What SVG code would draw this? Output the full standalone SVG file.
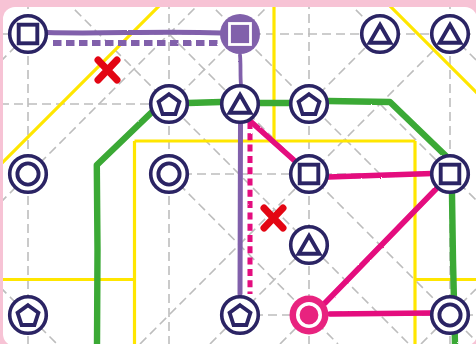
<svg xmlns="http://www.w3.org/2000/svg" xmlns:xlink="http://www.w3.org/1999/xlink" width="476" height="344" viewBox="0 0 476 344">
<style>
.ring{fill:#fff;stroke:#2b2464;stroke-width:3.6}
.sym{fill:none;stroke:#2b2464;stroke-width:3.9;stroke-linejoin:miter}
.grid path{fill:none;stroke:#bdbdbd;stroke-width:1.6;stroke-dasharray:9 5}
.yel{fill:none;stroke:#ffe600;stroke-width:3.2}
.ln{fill:none;stroke-linecap:round;stroke-linejoin:round}
.green{stroke:#3aa935;stroke-width:6.4}
.purple{stroke:#8161ab;stroke-width:5}
.pink{stroke:#e4087e;stroke-width:5.6}
.dotp{stroke-width:6;stroke-dasharray:8.5 4.5;stroke-linecap:butt}
.dotk{stroke-width:5;stroke-dasharray:7 4.3;stroke-linecap:butt}
.cross{stroke:#e30613;stroke-width:7;stroke-linecap:round}
</style>
<defs>
<clipPath id="card"><rect x="3" y="7" width="474" height="339" rx="12"/></clipPath>
<filter id="rough" filterUnits="userSpaceOnUse" x="0" y="0" width="476" height="344">
<feTurbulence type="fractalNoise" baseFrequency="0.7" numOctaves="2" seed="4"/>
<feDisplacementMap in="SourceGraphic" scale="1.6" xChannelSelector="R" yChannelSelector="G"/>
</filter>
<rect id="s-sq" x="-9.3" y="-9.3" width="18.6" height="18.6" class="sym"/>
<path id="s-tri" d="M0,-9.2 L10.4,8.8 L-10.4,8.8 Z" class="sym"/>
<path id="s-pent" d="M0,-9.8 L10.4,-2.2 L6.4,10 L-6.4,10 L-10.4,-2.2 Z" class="sym"/>
<circle id="s-cir" r="10.6" class="sym"/>
</defs>
<rect x="0" y="0" width="476" height="344" fill="#f7c3d5"/>
<rect x="3" y="7" width="474" height="339" rx="12" fill="#fff"/>
<g clip-path="url(#card)">
<g class="grid" id="grid">
<path d="M0,34 H476 M0,104 H290 M169,174 H450 M240,315 H476"/>
<path d="M28,0 V344 M169,0 V344 M309,0 V344 M450,0 V344"/>
<path d="M0,287 L57,344 M169,174 L338,344 M65,0 L409,344 M169,34 L476,341 M206,0 L380,174 M380,104 L476,200 M346,0 L380,34 M450,34 L476,60"/>
<path d="M0,62 L28,34 M0,203 L203,0 M169,105 L274,0 M309,104 L380,33 M140,344 L450,34 M210,344 L309,245 M280,344 L309,315 M421,344 L476,289"/>
</g>
<g id="zones" class="yel">
<path d="M0,165 L161,4"/>
<path d="M388,4 L478,94"/>
<path d="M274,0 V141 M134.5,141 H415 M134.5,141 V344 M415,141 V344 M0,279.5 H134.5 M415,279.5 H476"/>
</g>
<g id="connectors" filter="url(#rough)">
<path class="ln green" d="M97,344 L97.5,250 L96.8,165 L153,111"/>
<path class="ln green" d="M188,103 L221,102"/>
<path class="ln green" d="M259,103 L290,103"/>
<path class="ln green" d="M328,101 L390,102 L446,156"/>
<path class="ln green" d="M452,194 L453,260 L455,344"/>
<path class="ln purple" d="M47,32.5 C100,34 160,31 222,33"/>
<path class="ln purple dotp" d="M53,43 L220,43"/>
<path class="ln purple" d="M240,55 C241,65 240,75 241,85" style="stroke-width:3.8"/>
<path class="ln purple" d="M240.5,124 L240,294"/>
<path class="ln pink dotk" d="M250,122 L250,294"/>
<path class="ln pink" d="M249,120 L296,162"/>
<path class="ln pink" d="M328,177 L432,173.5"/>
<path class="ln pink" d="M436,189 L325,303"/>
<path class="ln pink" d="M330,314 L432,313"/>
</g>
<g id="nodes">
<g id="n1" transform="translate(28,34)"><circle r="18.3" class="ring"/><use href="#s-sq" xlink:href="#s-sq"/></g>
<g id="n2" transform="translate(240,34)"><circle r="20" fill="#8161ab"/><rect x="-10.5" y="-10.5" width="21" height="21" fill="#8161ab" stroke="#fff" stroke-width="2.8"/></g>
<g id="n3" transform="translate(380,34)"><circle r="18.3" class="ring"/><use href="#s-tri" xlink:href="#s-tri"/></g>
<g id="n4" transform="translate(450,34)"><circle r="18.3" class="ring"/><use href="#s-tri" xlink:href="#s-tri"/></g>
<g id="n5" transform="translate(169,104)"><circle r="18.3" class="ring"/><use href="#s-pent" xlink:href="#s-pent"/></g>
<g id="n6" transform="translate(240,104)"><circle r="18.3" class="ring"/><use href="#s-tri" xlink:href="#s-tri"/></g>
<g id="n7" transform="translate(309,104)"><circle r="18.3" class="ring"/><use href="#s-pent" xlink:href="#s-pent"/></g>
<g id="n8" transform="translate(28,174)"><circle r="18.3" class="ring"/><use href="#s-cir" xlink:href="#s-cir"/></g>
<g id="n9" transform="translate(169,174)"><circle r="18.3" class="ring"/><use href="#s-cir" xlink:href="#s-cir"/></g>
<g id="n10" transform="translate(309,174)"><circle r="18.3" class="ring"/><use href="#s-sq" xlink:href="#s-sq"/></g>
<g id="n11" transform="translate(450,174)"><circle r="18.3" class="ring"/><use href="#s-sq" xlink:href="#s-sq"/></g>
<g id="n12" transform="translate(309,245)"><circle r="18.3" class="ring"/><use href="#s-tri" xlink:href="#s-tri"/></g>
<g id="n13" transform="translate(28,315)"><circle r="18.3" class="ring"/><use href="#s-pent" xlink:href="#s-pent"/></g>
<g id="n14" transform="translate(240,315)"><circle r="18.3" class="ring"/><use href="#s-pent" xlink:href="#s-pent"/></g>
<g id="n15" transform="translate(309,315)"><circle r="19.5" fill="#e8237f"/><circle r="11.2" fill="none" stroke="#fff" stroke-width="3.6"/></g>
<g id="n16" transform="translate(450,315)"><circle r="18.3" class="ring"/><use href="#s-cir" xlink:href="#s-cir"/></g>
</g>
<g id="marks" class="cross">
<path d="M98,60 L117,80 M117,60 L98,80"/>
<path d="M264,208 L283,228 M283,208 L264,228"/>
</g>
</g>
</svg>
